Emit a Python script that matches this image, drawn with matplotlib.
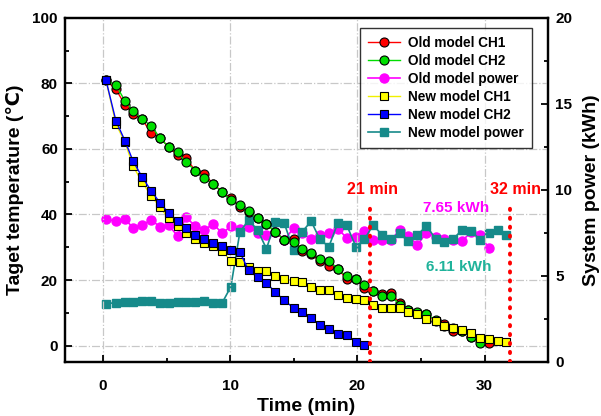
import numpy as np
import matplotlib
matplotlib.use("Agg")
import matplotlib.pyplot as plt
from matplotlib.ticker import MultipleLocator

plt.rcParams["font.family"] = ["Liberation Sans", "DejaVu Sans"]
plt.rcParams["font.weight"] = "bold"

# ── data ──────────────────────────────────────────────────────────────────
t_grid = [0.23, 1.01, 1.72, 2.37, 3.08, 3.79, 4.47, 5.15, 5.86, 6.52,
          7.25, 7.96, 8.66, 9.37, 10.05, 10.76, 11.44, 12.15, 12.85, 13.54,
          14.25, 14.98, 15.66, 16.37, 17.05, 17.76, 18.45, 19.16, 19.88, 20.56,
          21.24, 21.97, 22.63, 23.34, 24.02, 24.72, 25.43, 26.17, 26.85, 27.53,
          28.26, 28.95, 29.63, 30.36, 31.05, 31.72]

old_ch1 = [81, 78.2, 73.5, 70.7, 69.0, 64.8, 63.4, 60.6, 58.2, 57.2,
           53.4, 52.4, 49.3, 46.9, 44.9, 42.4, 40.8, 38.9, 37.1, 34.7,
           32.3, 32.5, 29.0, 28.0, 25.7, 24.3, 23.4, 20.4, 20.3, 17.6,
           16.6, 15.8, 15.9, 13.0, 10.8, 10.0, 9.5, 7.5, 6.6, 4.4,
           4.4, 2.5, 1.8, 0.8]
old_ch2 = [81, 79.5, 74.7, 71.6, 69.1, 67.0, 63.4, 60.6, 59.0, 56.0,
           53.4, 51.0, 49.3, 46.8, 44.3, 42.8, 41.0, 38.9, 37.1, 34.7,
           32.3, 31.5, 29.4, 28.3, 26.5, 25.9, 23.4, 21.1, 20.3, 18.5,
           16.6, 15.2, 15.0, 12.5, 10.8, 10.2, 9.5, 7.9, 5.9, 5.4,
           4.4, 2.5, 0.8]
old_power = [8.29, 8.19, 8.29, 7.80, 7.96, 8.25, 7.86, 7.96, 7.32, 8.41,
             7.90, 7.67, 8.02, 7.48, 7.88, 7.70, 7.86, 7.50, 7.38, 7.57,
             7.09, 7.77, 7.48, 7.13, 7.38, 7.48, 7.74, 7.22, 7.26, 7.62,
             7.11, 7.11, 7.09, 7.67, 7.33, 6.80, 7.52, 7.28, 7.15, 7.07,
             7.04, 7.57, 7.38, 6.60]
new_ch1 = [81, 67.6, 62.1, 54.7, 49.8, 45.7, 42.2, 38.9, 36.4, 34.4,
           32.6, 31.3, 30.3, 29.0, 25.7, 25.5, 23.9, 22.7, 22.7, 21.1,
           20.3, 19.8, 19.3, 17.8, 17.1, 17.1, 15.5, 14.5, 14.3, 14.0,
           12.5, 11.5, 11.5, 11.5, 10.2, 9.5, 8.1, 7.6, 5.9, 5.4,
           4.7, 3.9, 2.3, 2.0, 1.5, 1.0]
new_ch2 = [81, 68.6, 62.5, 56.2, 51.4, 47.2, 43.6, 40.5, 37.9, 35.9,
           33.8, 32.5, 31.3, 30.5, 29.3, 28.5, 23.0, 20.8, 19.1, 16.3,
           13.8, 11.5, 10.2, 8.5, 6.2, 4.9, 3.5, 3.1, 1.1, 0.1]
new_power = [3.39, 3.44, 3.48, 3.48, 3.54, 3.54, 3.44, 3.44, 3.48, 3.48,
             3.48, 3.52, 3.44, 3.44, 4.37, 7.55, 8.25, 7.67, 6.58, 8.12,
             8.06, 6.50, 7.57, 8.18, 7.12, 6.70, 8.06, 7.96, 6.70, 7.13,
             7.96, 7.35, 7.13, 7.52, 7.05, 7.38, 7.90, 7.15, 6.95, 7.15,
             7.69, 7.63, 7.10, 7.48, 7.67, 7.35]

t_mark = [21, 32]

# ── figure ────────────────────────────────────────────────────────────────
fig = plt.figure(figsize=(6.01, 4.16), dpi=100)
ax = fig.add_axes([0.108, 0.130, 0.804, 0.827])
ax2 = ax.twinx()

def t_of(vals):
    return t_grid[:len(vals)]

ax.plot(t_of(old_ch1), old_ch1, color="red", lw=1, marker="o", ms=6.5,
        mfc="red", mec="black", mew=0.8, label="Old model CH1", zorder=3)
ax.plot(t_of(old_ch2), old_ch2, color="#00dd00", lw=1, marker="o", ms=6.5,
        mfc="#00e000", mec="black", mew=0.8, label="Old model CH2", zorder=3)
ax.plot(t_of(new_ch1), new_ch1, color="#f0f000", lw=1, marker="s", ms=5.2,
        mfc="#ffff00", mec="black", mew=0.8, label="New model CH1", zorder=3)
ax.plot(t_of(new_ch2), new_ch2, color="blue", lw=1, marker="s", ms=5.2,
        mfc="blue", mec="black", mew=0.8, label="New model CH2", zorder=3)

ax2.plot(t_of(old_power), old_power, color="magenta", lw=1.2, marker="o",
         ms=6.5, mfc="magenta", mec="magenta", label="Old model power")
ax2.plot(t_of(new_power), new_power, color="#168a8a", lw=1.2, marker="s",
         ms=5.2, mfc="#168a8a", mec="#168a8a", label="New model power")

for tm in t_mark:
    ax.plot([tm, tm], [-5, 43.5], color="red", ls=(0, (0.3, 2.0)), lw=2.8,
            dash_capstyle="round", zorder=4)

ax.text(21.2, 47.5, "21 min", color="red", fontsize=11.5, fontweight="bold",
        ha="center", va="center")
ax.text(32.4, 47.5, "32 min", color="red", fontsize=11.5, fontweight="bold",
        ha="center", va="center")
ax.text(27.8, 42, "7.65 kWh", color="magenta", fontsize=11,
        fontweight="bold", ha="center", va="center")
ax.text(28.0, 23.9, "6.11 kWh", color="#20b39b", fontsize=11,
        fontweight="bold", ha="center", va="center")

ax.set_xlim(-3, 35)
ax.set_ylim(-5, 100)
ax2.set_ylim(0, 20)

ax.xaxis.set_major_locator(MultipleLocator(10))
ax.xaxis.set_minor_locator(MultipleLocator(5))
ax.yaxis.set_major_locator(MultipleLocator(20))
ax.yaxis.set_minor_locator(MultipleLocator(10))
ax2.yaxis.set_major_locator(MultipleLocator(5))
ax2.yaxis.set_minor_locator(MultipleLocator(2.5))

ax.grid(True, which="major", color="#c8c8c8", ls="-.", lw=0.9)
ax.set_axisbelow(True)

for a in (ax, ax2):
    a.tick_params(which="both", direction="in", labelsize=11, width=1.3)
    a.tick_params(which="major", length=5)
    a.tick_params(which="minor", length=3)
    for sp in a.spines.values():
        sp.set_linewidth(1.6)
ax.tick_params(axis="x", pad=12)
ax.tick_params(axis="y", pad=5)
ax2.tick_params(axis="y", pad=5)
for lab in ax.get_xticklabels() + ax.get_yticklabels() + ax2.get_yticklabels():
    lab.set_fontweight("bold")

ax.set_xlabel("Time (min)", fontsize=14, fontweight="bold", labelpad=4)
ax.set_ylabel("Taget temperature (℃)", fontsize=14, fontweight="bold",
              labelpad=6)
ax2.set_ylabel("System power (kWh)", fontsize=14, fontweight="bold",
               labelpad=8)

h1, l1 = ax.get_legend_handles_labels()
h2, l2 = ax2.get_legend_handles_labels()
order = [0, 1, 4, 2, 3, 5]
hs = h1 + h2
ls_ = l1 + l2
leg = ax.legend([hs[i] for i in order], [ls_[i] for i in order],
                loc="upper right", bbox_to_anchor=(0.98, 0.99),
                frameon=True, fancybox=False, edgecolor="black",
                handlelength=2.4, handletextpad=0.6, labelspacing=0.3,
                borderpad=0.55, prop={"weight": "bold", "size": 9.8})
leg.get_frame().set_linewidth(1.0)
ax.set_zorder(ax2.get_zorder() + 1)
ax.patch.set_visible(False)

fig.savefig("out.png", dpi=100)
